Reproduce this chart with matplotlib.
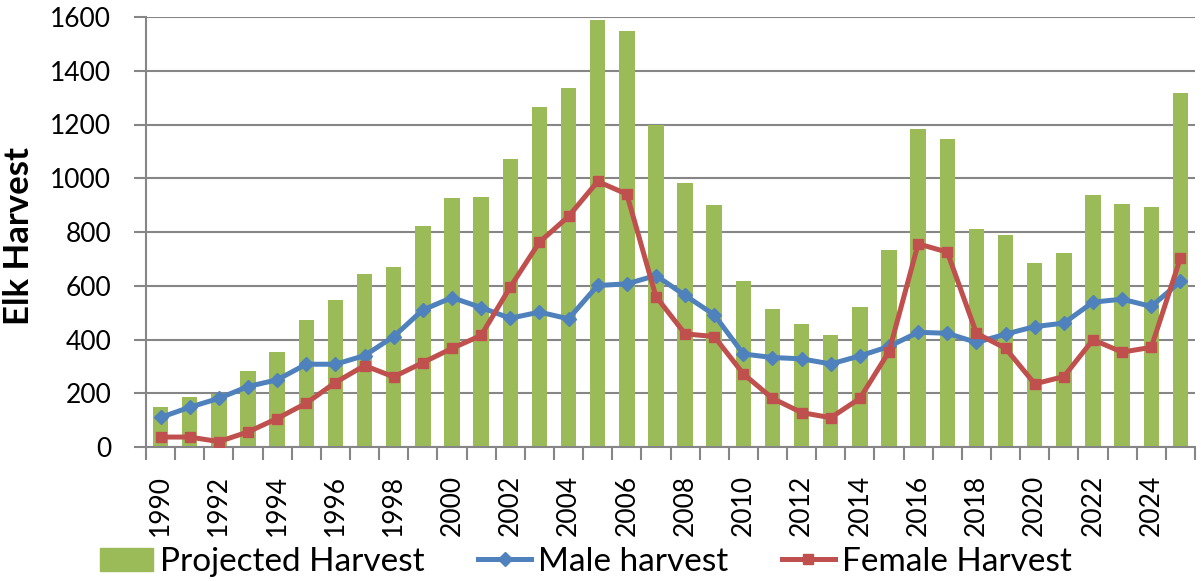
import matplotlib
matplotlib.use("Agg")
import matplotlib.pyplot as plt
import numpy as np
from matplotlib.ticker import FixedLocator, NullFormatter
from matplotlib.lines import Line2D
from matplotlib.patches import Patch

years = list(range(1990, 2026))
projected = [148, 185, 197, 283, 354, 472, 547, 643, 670, 824, 925, 932,
             1073, 1265, 1336, 1588, 1549, 1199, 983, 899, 618, 514, 457, 417,
             521, 734, 1184, 1147, 813, 788, 684, 723, 939, 904, 893, 1317]
male = [110, 148, 181, 225, 250, 308, 308, 340, 411, 510, 556, 519,
        479, 502, 477, 601, 607, 638, 564, 492, 346, 333, 328, 309,
        339, 374, 427, 423, 389, 420, 448, 461, 539, 550, 523, 616]
female = [37, 37, 20, 56, 106, 163, 240, 303, 261, 314, 367, 415,
          595, 762, 858, 988, 941, 560, 421, 411, 272, 181, 128, 109,
          181, 355, 756, 725, 423, 367, 235, 262, 399, 353, 371, 703]
yticks = [0, 200, 400, 600, 800, 1000, 1200, 1400, 1600]

GREEN = "#9BBB59"
BLUE = "#4F81BD"
RED = "#C0504D"
GRID = "#868686"

plt.rcParams['font.family'] = ['Lato', 'DejaVu Sans']

fig = plt.figure(figsize=(12.01, 5.81), dpi=100)
ax = fig.add_axes([146/1201, 1 - 447/581, (1195-146)/1201, (447-17)/581])

x = np.arange(len(years))
ax.bar(x, projected, width=0.53, color=GREEN, zorder=2)
ax.plot(x, male, color=BLUE, lw=3.6, marker='D', ms=7, zorder=3)
ax.plot(x, female, color=RED, lw=3.6, marker='s', ms=7, zorder=4)

ax.set_xlim(-0.5, len(years) - 0.5)
ax.set_ylim(0, 1600)
ax.set_yticks(yticks)
ax.set_yticklabels([str(v) for v in yticks], fontsize=19)
ax.yaxis.grid(True, color=GRID, lw=1.5, zorder=0)
ax.set_axisbelow(True)

# category labels every other year, ticks at boundaries
ax.set_xticks(x[::2])
ax.set_xticklabels([str(y) for y in years[::2]], rotation=90, fontsize=19)
ax.tick_params(axis='x', which='major', length=0, pad=20)
ax.xaxis.set_minor_locator(FixedLocator(np.arange(-0.5, len(years), 1.0)))
ax.xaxis.set_minor_formatter(NullFormatter())
ax.tick_params(axis='x', which='minor', length=9, width=1.5, color=GRID, direction='out')
ax.tick_params(axis='y', length=9, width=1.5, color=GRID, direction='out', pad=16)

for s in ['top', 'right']:
    ax.spines[s].set_visible(False)
ax.spines['left'].set_color(GRID)
ax.spines['left'].set_linewidth(1.5)
ax.spines['bottom'].set_color(GRID)
ax.spines['bottom'].set_linewidth(1.5)

ax.set_ylabel("Elk Harvest", fontsize=25, fontweight='bold')
ax.yaxis.set_label_coords(-0.106, 0.49)

handles = [Patch(color=GREEN),
           Line2D([], [], color=BLUE, lw=3.6, marker='D', ms=7),
           Line2D([], [], color=RED, lw=3.6, marker='s', ms=7)]
labels = ["Projected Harvest", "Male harvest", "Female Harvest"]
fig.legend(handles, labels, loc='lower left', bbox_to_anchor=(70/1201, -0.045),
           ncol=3, frameon=False, fontsize=24, handlelength=1.6,
           handleheight=0.7, handletextpad=0.2, columnspacing=1.6)

fig.savefig("out.png", dpi=100)
